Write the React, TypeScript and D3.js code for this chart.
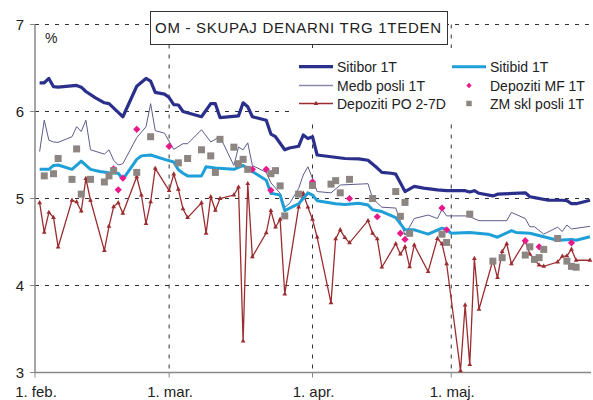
import React, { useEffect, useRef } from "react";
import * as d3 from "d3";

// values, dates as MM-DD (2008)
const sitibor: [string, number][] = [
  ["02-02", 6.33], ["02-03", 6.33], ["02-04", 6.38], ["02-05", 6.285], ["02-06", 6.28],
  ["02-10", 6.3], ["02-11", 6.28], ["02-12", 6.23], ["02-14", 6.16], ["02-16", 6.1],
  ["02-17", 6.09], ["02-19", 5.99], ["02-20", 5.94], ["02-23", 6.29], ["02-25", 6.38],
  ["02-26", 6.35], ["02-27", 6.22], ["02-29", 6.2], ["03-01", 6.16], ["03-02", 6.08],
  ["03-03", 6.075], ["03-04", 6.0], ["03-08", 5.94], ["03-10", 6.09], ["03-11", 6.09],
  ["03-12", 5.93], ["03-16", 5.95], ["03-17", 6.1], ["03-18", 6.055], ["03-19", 5.94],
  ["03-22", 5.9], ["03-23", 5.74], ["03-24", 5.71], ["03-26", 5.56], ["03-27", 5.58],
  ["03-29", 5.6], ["03-30", 5.73], ["03-31", 5.69], ["04-01", 5.71], ["04-02", 5.5],
  ["04-05", 5.48], ["04-08", 5.46], ["04-11", 5.455], ["04-13", 5.44], ["04-15", 5.35],
  ["04-16", 5.3], ["04-18", 5.29], ["04-19", 5.28], ["04-21", 5.08], ["04-23", 5.14],
  ["04-25", 5.12], ["04-28", 5.1], ["04-30", 5.09], ["05-04", 5.09], ["05-05", 5.075],
  ["05-06", 5.09], ["05-07", 5.06], ["05-10", 5.03], ["05-11", 5.05], ["05-17", 5.065],
  ["05-18", 5.02], ["05-19", 5.01], ["05-22", 4.98], ["05-25", 4.98], ["05-26", 4.975],
  ["05-27", 4.94], ["05-28", 4.94], ["05-31", 4.98],
];

const sitibid: [string, number][] = [
  ["02-02", 5.335], ["02-04", 5.335], ["02-05", 5.38], ["02-06", 5.385], ["02-09", 5.335],
  ["02-11", 5.43], ["02-13", 5.335], ["02-15", 5.31], ["02-17", 5.295], ["02-19", 5.29],
  ["02-20", 5.22], ["02-23", 5.45], ["02-24", 5.49], ["02-26", 5.5], ["02-29", 5.45],
  ["03-02", 5.42], ["03-03", 5.33], ["03-04", 5.29], ["03-05", 5.26], ["03-08", 5.26],
  ["03-09", 5.365], ["03-11", 5.35], ["03-15", 5.335], ["03-17", 5.38], ["03-19", 5.31],
  ["03-22", 5.21], ["03-23", 5.06], ["03-24", 5.05], ["03-25", 5.04], ["03-26", 4.86],
  ["03-29", 4.94], ["03-30", 5.0], ["03-31", 5.065], ["04-01", 5.04], ["04-02", 4.975],
  ["04-06", 4.94], ["04-08", 4.93], ["04-11", 4.945], ["04-13", 4.925], ["04-14", 4.87],
  ["04-16", 4.85], ["04-19", 4.78], ["04-21", 4.64], ["04-23", 4.64], ["04-26", 4.59],
  ["04-29", 4.66], ["04-30", 4.645], ["05-01", 4.6], ["05-05", 4.61], ["05-09", 4.59],
  ["05-11", 4.555], ["05-14", 4.63], ["05-15", 4.61], ["05-18", 4.6], ["05-21", 4.56],
  ["05-24", 4.52], ["05-27", 4.53], ["05-28", 4.52], ["05-31", 4.56],
];

const medb: [string, number][] = [
  ["02-02", 5.54], ["02-03", 5.9], ["02-04", 5.67], ["02-05", 5.65], ["02-06", 5.645],
  ["02-09", 5.71], ["02-10", 5.825], ["02-11", 5.77], ["02-12", 5.9], ["02-13", 5.56],
  ["02-16", 5.51], ["02-17", 5.56], ["02-18", 5.44], ["02-19", 5.385], ["02-20", 5.4],
  ["02-23", 5.7], ["02-25", 5.825], ["02-26", 6.09], ["02-27", 5.78], ["02-29", 5.75],
  ["03-02", 5.565], ["03-04", 5.63], ["03-05", 5.63], ["03-08", 5.79], ["03-10", 5.65],
  ["03-12", 5.71], ["03-15", 5.38], ["03-16", 5.59], ["03-17", 5.56], ["03-18", 5.64],
  ["03-19", 5.38], ["03-22", 5.3], ["03-23", 5.18], ["03-25", 5.06], ["03-26", 4.9],
  ["03-27", 4.94], ["03-29", 5.115], ["03-30", 5.27], ["03-31", 5.365], ["04-01", 5.23],
  ["04-02", 5.08], ["04-05", 5.065], ["04-07", 5.155], ["04-13", 5.17], ["04-14", 5.0],
  ["04-16", 4.9], ["04-19", 4.89], ["04-21", 4.58], ["04-23", 4.77], ["04-26", 4.81],
  ["04-28", 4.77], ["04-29", 4.875], ["04-30", 4.8], ["05-04", 4.8], ["05-05", 4.79],
  ["05-07", 4.745], ["05-13", 4.745], ["05-14", 4.84], ["05-17", 4.77], ["05-18", 4.675],
  ["05-19", 4.675], ["05-21", 4.59], ["05-24", 4.67], ["05-25", 4.62], ["05-26", 4.695],
  ["05-27", 4.65], ["05-31", 4.68],
];

const depPO: [string, number][] = [
  ["02-02", 4.95], ["02-03", 4.61], ["02-04", 4.84], ["02-05", 4.78], ["02-06", 4.44],
  ["02-09", 4.98], ["02-10", 4.96], ["02-11", 4.855], ["02-12", 5.23], ["02-13", 4.98],
  ["02-16", 4.4], ["02-17", 4.68], ["02-18", 4.905], ["02-19", 4.95], ["02-20", 4.83],
  ["02-23", 5.25], ["02-24", 5.04], ["02-25", 4.71], ["02-26", 4.96], ["02-27", 5.345],
  ["03-01", 5.09], ["03-02", 5.28], ["03-03", 5.105], ["03-04", 4.88], ["03-05", 4.78],
  ["03-08", 4.95], ["03-09", 4.6], ["03-10", 5.02], ["03-11", 4.865], ["03-12", 5.0],
  ["03-15", 5.04], ["03-16", 5.13], ["03-17", 3.36], ["03-18", 5.17], ["03-19", 4.33],
  ["03-22", 4.605], ["03-23", 4.86], ["03-24", 4.67], ["03-25", 4.76], ["03-26", 3.9],
  ["03-29", 4.9], ["03-30", 5.06], ["03-31", 4.9], ["04-01", 4.76], ["04-02", 4.555],
  ["04-05", 3.8], ["04-06", 4.535], ["04-07", 4.64], ["04-08", 4.55], ["04-09", 4.49],
  ["04-13", 4.745], ["04-14", 4.6], ["04-15", 4.535], ["04-16", 4.21], ["04-19", 4.48],
  ["04-20", 4.36], ["04-21", 4.445], ["04-22", 4.215], ["04-23", 4.465], ["04-26", 4.16],
  ["04-28", 4.54], ["04-29", 4.48], ["04-30", 4.25], ["05-03", 3.02], ["05-04", 3.775],
  ["05-05", 3.09], ["05-06", 4.31], ["05-07", 3.725], ["05-10", 4.29], ["05-11", 4.09],
  ["05-12", 4.39], ["05-13", 4.48], ["05-14", 4.25], ["05-17", 4.51], ["05-18", 4.36],
  ["05-20", 4.235], ["05-21", 4.22], ["05-24", 4.27], ["05-25", 4.335], ["05-26", 4.34],
  ["05-27", 4.415], ["05-28", 4.29], ["05-31", 4.29],
];

const depMF: [string, number][] = [
  ["02-18", 5.34], ["02-19", 5.1], ["02-20", 5.235], ["02-23", 5.795], ["03-01", 5.6],
  ["03-19", 5.335], ["03-22", 5.335], ["03-23", 5.095], ["04-01", 5.19], ["04-09", 5.0],
  ["04-15", 4.79], ["04-20", 4.6], ["04-21", 4.53], ["04-29", 4.89], ["04-30", 4.64],
  ["05-17", 4.515], ["05-20", 4.445], ["05-27", 4.49],
];

const zmSkl: [string, number][] = [
  ["02-03", 5.26], ["02-05", 5.285], ["02-06", 5.46], ["02-09", 5.22], ["02-10", 5.57],
  ["02-11", 5.05], ["02-13", 5.22], ["02-16", 5.19], ["02-17", 5.26], ["02-18", 5.32],
  ["02-23", 5.3], ["02-26", 5.71], ["03-03", 5.41], ["03-05", 5.46], ["03-08", 5.56],
  ["03-10", 5.49], ["03-11", 5.3], ["03-12", 5.68], ["03-15", 5.59], ["03-16", 5.4],
  ["03-17", 5.45], ["03-18", 5.335], ["03-23", 5.285], ["03-24", 5.32], ["03-25", 5.145],
  ["03-26", 4.8], ["03-29", 5.05], ["04-01", 5.15], ["04-05", 5.165], ["04-06", 5.205],
  ["04-07", 5.065], ["04-09", 5.22], ["04-14", 5.0], ["04-19", 5.08], ["04-20", 4.795],
  ["04-21", 4.955], ["04-22", 4.6], ["04-29", 4.59], ["04-30", 4.495], ["05-05", 4.82],
  ["05-10", 4.28], ["05-12", 4.32], ["05-17", 4.35], ["05-18", 4.445], ["05-19", 4.3],
  ["05-20", 4.32], ["05-21", 4.415], ["05-24", 4.54], ["05-26", 4.28], ["05-27", 4.22],
  ["05-28", 4.21],
];

const yTicks = [3, 4, 5, 6, 7];
const monthTicks = ["02-01", "03-01", "04-01", "05-01"];
const monthLabels = ["1. feb.", "1. mar.", "1. apr.", "1. maj."];
const title = "OM - SKUPAJ DENARNI TRG 1TEDEN";

const parse = (s: string) => new Date(2008, +s.slice(0, 2) - 1, +s.slice(3));

const Chart = () => {
  const ref = useRef<SVGSVGElement>(null);

  useEffect(() => {
    const svg = d3.select(ref.current);
    svg.selectAll("*").remove();
    const font = "'Liberation Sans', Arial, sans-serif";

    const x = d3
      .scaleTime()
      .domain([new Date(2008, 1, 1), new Date(2008, 4, 31)])
      .range([35, 590]);
    const y = d3.scaleLinear().domain([3, 7]).range([372.5, 24.5]);

    // grid
    svg
      .selectAll(".hgrid")
      .data(yTicks.slice(1))
      .join("line")
      .attr("x1", 35)
      .attr("x2", 590)
      .attr("y1", (d) => y(d))
      .attr("y2", (d) => y(d))
      .attr("stroke", "#333")
      .attr("stroke-dasharray", "4,6");
    svg
      .selectAll(".vgrid")
      .data(monthTicks.slice(1))
      .join("line")
      .attr("x1", (d) => x(parse(d)))
      .attr("x2", (d) => x(parse(d)))
      .attr("y1", y(7))
      .attr("y2", y(3))
      .attr("stroke", "#333")
      .attr("stroke-dasharray", "4,6");

    // axes
    const g = svg.append("g").attr("font-family", font).attr("fill", "#222");
    g.append("line").attr("x1", 35).attr("x2", 35).attr("y1", y(7)).attr("y2", y(3))
      .attr("stroke", "#888").attr("stroke-width", 1.5);
    g.append("line").attr("x1", 35).attr("x2", 591).attr("y1", y(3)).attr("y2", y(3))
      .attr("stroke", "#888").attr("stroke-width", 1.5);
    yTicks.forEach((t) => {
      g.append("line").attr("x1", 30).attr("x2", 35).attr("y1", y(t)).attr("y2", y(t))
        .attr("stroke", "#888");
      g.append("text").attr("x", 24).attr("y", y(t) + 5.5).attr("text-anchor", "end")
        .attr("font-size", 15).text(t);
    });
    monthTicks.forEach((m, i) => {
      const px = x(parse(m));
      g.append("line").attr("x1", px).attr("x2", px).attr("y1", y(3)).attr("y2", y(3) + 5)
        .attr("stroke", "#888");
      g.append("text").attr("x", px + 1).attr("y", 397).attr("text-anchor", "middle")
        .attr("font-size", 15).text(monthLabels[i]);
    });
    g.append("text").attr("x", 45).attr("y", 43).attr("font-size", 14).text("%");

    const line = d3
      .line<[string, number]>()
      .x((d) => x(parse(d[0])))
      .y((d) => y(d[1]));

    svg.append("path").datum(medb).attr("d", line).attr("fill", "none")
      .attr("stroke", "#5c5c8e").attr("stroke-width", 1);
    svg.append("path").datum(depPO).attr("d", line).attr("fill", "none")
      .attr("stroke", "#9b2d30").attr("stroke-width", 1.3);
    svg.selectAll(".tri").data(depPO).join("path")
      .attr("d", d3.symbol(d3.symbolTriangle, 10))
      .attr("transform", (d) => `translate(${x(parse(d[0]))},${y(d[1])})`)
      .attr("fill", "#9b2d30");
    svg.append("path").datum(sitibid).attr("d", line).attr("fill", "none")
      .attr("stroke", "#1e9fd8").attr("stroke-width", 3).attr("stroke-linejoin", "round");
    svg.append("path").datum(sitibor).attr("d", line).attr("fill", "none")
      .attr("stroke", "#2b2f8c").attr("stroke-width", 3.2).attr("stroke-linejoin", "round");

    svg.selectAll(".mf").data(depMF).join("path")
      .attr("d", d3.symbol(d3.symbolSquare, 26))
      .attr("transform", (d) => `translate(${x(parse(d[0]))},${y(d[1])}) rotate(45)`)
      .attr("fill", "#e8188a");
    svg.selectAll(".zm").data(zmSkl).join("path")
      .attr("d", d3.symbol(d3.symbolSquare, 49))
      .attr("transform", (d) => `translate(${x(parse(d[0]))},${y(d[1])})`)
      .attr("fill", "#8c8581");

    // title box
    svg.append("rect").attr("x", 150.5).attr("y", 11.5).attr("width", 297).attr("height", 33)
      .attr("fill", "#fff").attr("stroke", "#333");
    svg.append("text").attr("x", 155).attr("y", 33).attr("font-family", font)
      .attr("font-size", 15).attr("textLength", 286).attr("lengthAdjust", "spacing")
      .attr("fill", "#222").text(title);

    // legend
    const lg = svg.append("g").attr("font-family", font).attr("font-size", 14).attr("fill", "#222");
    lg.append("rect").attr("x", 294).attr("y", 48).attr("width", 297).attr("height", 71).attr("fill", "#fff");
    const items = [
      { name: "Sitibor 1T", col: 0, row: 0, type: "line", color: "#2b2f8c", w: 3.2 },
      { name: "Sitibid 1T", col: 1, row: 0, type: "line", color: "#1e9fd8", w: 3 },
      { name: "Medb posli 1T", col: 0, row: 1, type: "line", color: "#8a8ab0", w: 1.5 },
      { name: "Depoziti MF 1T", col: 1, row: 1, type: "diamond", color: "#e8188a", w: 0 },
      { name: "Depoziti PO 2-7D", col: 0, row: 2, type: "tri", color: "#9b2d30", w: 1.3 },
      { name: "ZM skl posli 1T", col: 1, row: 2, type: "square", color: "#8c8581", w: 0 },
    ];
    const rows = [66.7, 85.5, 103.5];
    items.forEach((it) => {
      const x0 = it.col === 0 ? 299 : 452;
      const cy = rows[it.row];
      if (it.type === "line" || it.type === "tri") {
        lg.append("line").attr("x1", x0).attr("x2", x0 + 34).attr("y1", cy).attr("y2", cy)
          .attr("stroke", it.color).attr("stroke-width", it.w);
      }
      if (it.type === "tri") {
        lg.append("path").attr("d", d3.symbol(d3.symbolTriangle, 10)())
          .attr("transform", `translate(${x0 + 17},${cy})`).attr("fill", it.color);
      }
      if (it.type === "diamond") {
        lg.append("path").attr("d", d3.symbol(d3.symbolSquare, 14)())
          .attr("transform", `translate(${x0 + 17},${cy}) rotate(45)`).attr("fill", it.color);
      }
      if (it.type === "square") {
        lg.append("path").attr("d", d3.symbol(d3.symbolSquare, 30)())
          .attr("transform", `translate(${x0 + 17},${cy})`).attr("fill", it.color);
      }
      lg.append("text").attr("x", x0 + 38).attr("y", cy + 5).text(it.name);
    });
  }, []);

  return (
    <svg
      ref={ref}
      width={593}
      height={400}
      style={{ position: "absolute", left: 0, top: 0, background: "#fff" }}
    />
  );
};

export default function App() {
  return <Chart />;
}
